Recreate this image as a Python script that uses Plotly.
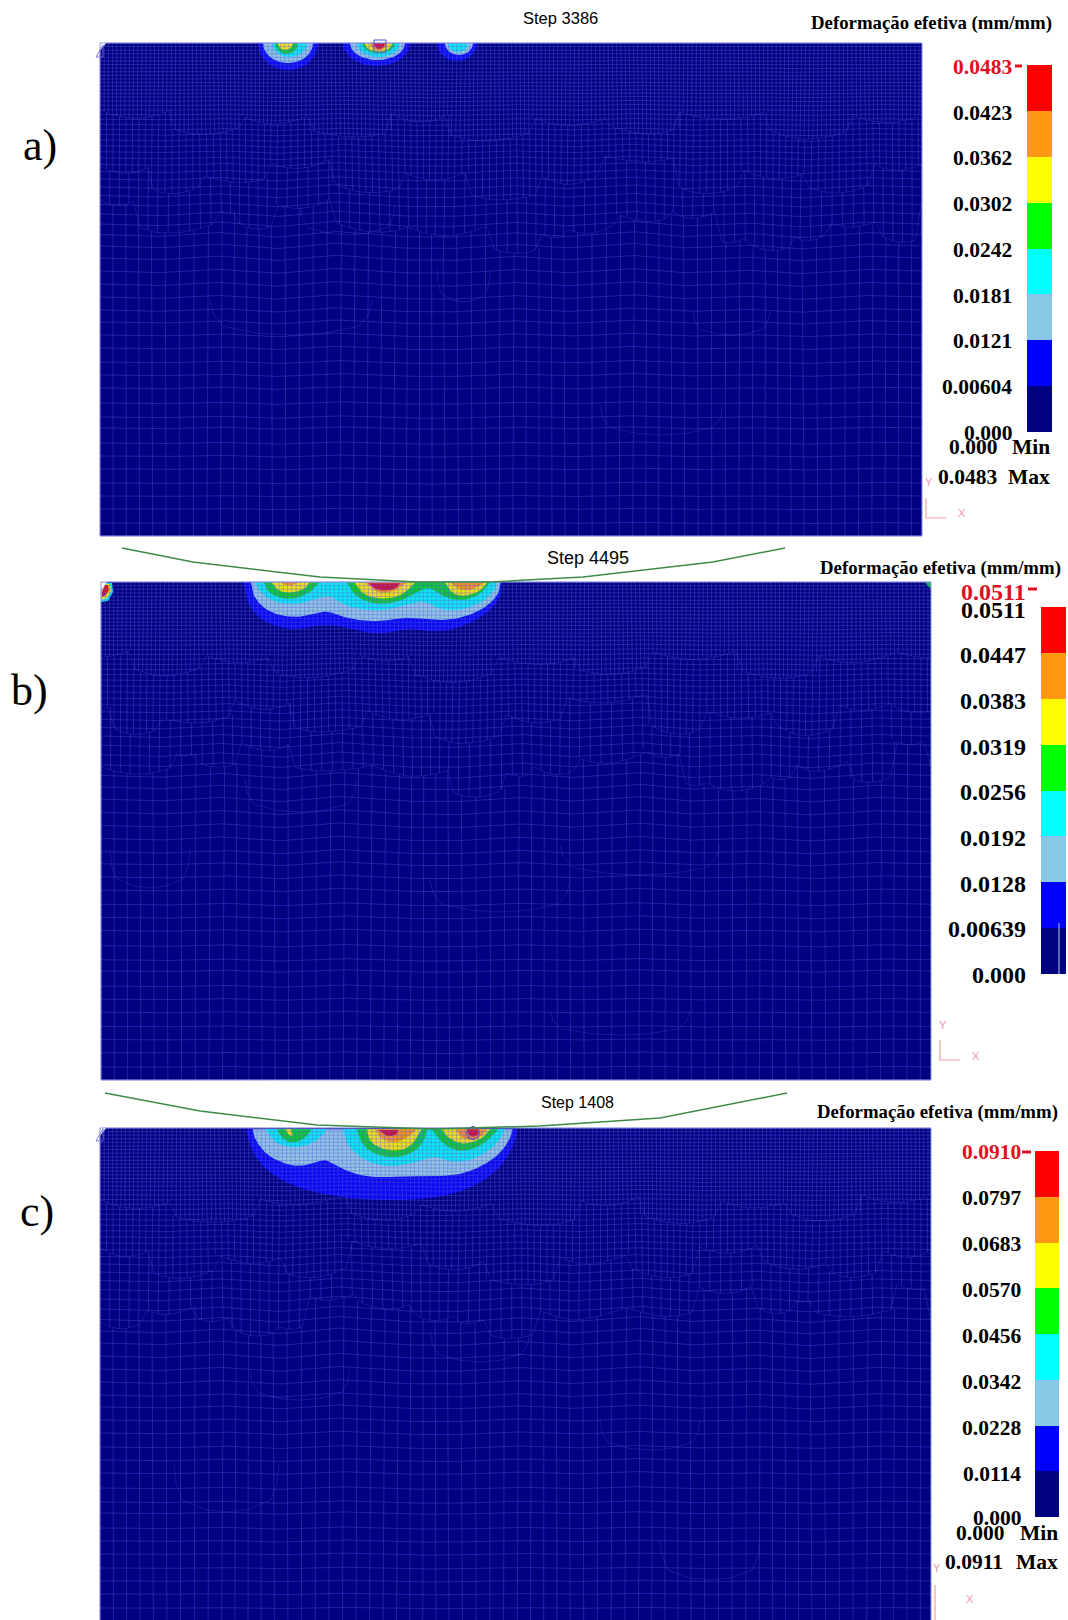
import numpy as np
import plotly.graph_objects as go

# ---- colour levels (low to high)
level_colors = ["#000080", "#0000ff", "#87c8e6", "#00ffff", "#00ff00", "#ffff00", "#ff9912", "#ff0000"]
C_BLUE, C_LIGHT, C_CYAN, C_GREEN, C_YEL, C_ORG, C_RED = "#0a0af0", "#8fc4e2", "#10e8f0", "#10c838", "#f0e020", "#f09030", "#d01038"

# ---- colour bar tick labels
ticks_a = ["0.0483", "0.0423", "0.0362", "0.0302", "0.0242", "0.0181", "0.0121", "0.00604", "0.000"]
ticks_b = ["0.0511", "0.0447", "0.0383", "0.0319", "0.0256", "0.0192", "0.0128", "0.00639", "0.000"]
ticks_c = ["0.0910", "0.0797", "0.0683", "0.0570", "0.0456", "0.0342", "0.0228", "0.0114", "0.000"]
tick_y_a = [67, 113, 158, 204, 250, 296, 341, 387, 433]
tick_y_b = [610, 655, 701, 747, 792, 838, 884, 929, 975]
tick_y_c = [1152, 1198, 1244, 1290, 1336, 1382, 1428, 1474, 1518]

# ---- panels: left, right, top, bottom
panel_a = (100, 922, 43, 536)
panel_b = (101, 931, 582, 1080)
panel_c = (100, 931, 1128, 1621)

# ---- mesh (depth below top edge, panel a pixels)
mesh_rows = [0, 3.6, 7.2, 10.8, 14.4, 18, 21.6, 25.2, 28.8, 32.4, 36, 39.6, 43.2, 46.8, 50.4, 54, 58,
             62.2, 66.8, 71.5, 76.3, 81.2, 86.3, 91.5, 97, 102.8, 108.8, 115, 121.5, 128.5, 136, 144,
             152.5, 161.5, 171, 181, 191.5, 203, 215, 228, 241, 254, 267, 279, 292, 305, 319, 332,
             345, 360, 374, 385, 400, 413, 426, 440, 453, 466, 480, 493]
mesh_steps = [4.2, 6.6, 9.9, 13.3]
row_wave = [0, 2, -2, 3, -3, 2, 3, -2, 2, -3, 2, -1, 3, -2, 0]
col_wave = [0, -2, 3, -2, 2, 3, -3, 2, -2, 3, -2, 2, -3, 2, 0]
wave_depth = [0, 60, 190, 300, 493]
wave_gain = [0, 0.3, 1, 0.6, 0.25]
scallop_1 = [(100, 170, 75), (170, 240, 92), (240, 310, 80), (310, 390, 95), (390, 450, 78), (450, 530, 98),
             (530, 610, 82), (610, 680, 92), (680, 770, 76), (770, 850, 95), (850, 922, 80)]
scallop_2 = [(100, 150, 130), (150, 200, 150), (200, 270, 140), (270, 330, 125), (330, 400, 150), (400, 470, 135),
             (470, 540, 158), (540, 600, 140), (600, 680, 120), (680, 740, 150), (740, 810, 135), (810, 870, 150),
             (870, 922, 128)]
scallop_3 = [(100, 135, 162), (135, 215, 189), (215, 235, 172), (235, 275, 185), (275, 330, 165), (330, 407, 189),
             (407, 490, 190), (490, 540, 212), (540, 567, 194), (567, 613, 190), (613, 673, 180), (673, 717, 174),
             (717, 743, 200), (743, 797, 207), (797, 827, 195), (827, 880, 185), (880, 922, 200)]
arcs_a = [(210, 372, 300, 335), (437, 490, 270, 302), (600, 723, 405, 435), (693, 770, 310, 335), (300, 395, 205, 235)]
arcs_b = [(245, 357, 780, 812), (110, 190, 850, 888), (430, 570, 880, 912), (550, 690, 1010, 1035), (560, 720, 845, 875)]
arcs_c = [(174, 279, 1465, 1512), (660, 760, 1540, 1580), (430, 530, 1330, 1362), (600, 700, 1420, 1450), (250, 350, 1370, 1400)]

# ---- contour bands: panel a half-ellipses (left, right, bottom, colour)
blobs_a = [
    (258, 318, 70, C_BLUE), (263, 313, 63, C_LIGHT), (272, 307, 57, C_CYAN), (275, 298, 54, C_GREEN), (278, 293, 50, C_YEL),
    (343, 410, 66, C_BLUE), (350, 405, 60, C_LIGHT), (357, 400, 57, C_CYAN), (362, 395, 53, C_GREEN), (365, 392, 52, C_YEL),
    (370, 387, 50, C_ORG), (374, 385, 49, C_RED),
    (437, 477, 61, C_BLUE), (445, 473, 55, C_LIGHT), (448, 468, 52, C_CYAN),
]
# panel b contours, points (col, row) as read on a 3x crop with origin (200, 530)
bands_b = [
    (C_BLUE, [(130,157),(140,215),(175,265),(240,295),(300,298),(345,287),(385,285),(430,290),(500,310),(560,310),(630,295),(680,305),(760,300),(830,270),(880,235),(905,190),(905,157)]),
    (C_LIGHT, [(153,157),(158,195),(190,235),(240,258),(300,262),(345,250),(385,243),(420,258),(470,270),(540,275),(610,262),(660,265),(730,272),(800,260),(860,230),(895,195),(902,157)]),
    (C_CYAN, [(165,157),(185,195),(240,222),(300,222),(350,205),(390,195),(430,225),(490,240),(560,240),(620,225),(670,210),(720,240),(790,240),(850,215),(885,180),(890,157)]),
    (C_GREEN, [(192,157),(205,190),(265,212),(330,190),(358,157)]),
    (C_GREEN, [(440,157),(465,200),(530,225),(600,215),(650,185),(690,170),(720,195),(780,215),(840,195),(870,157)]),
    (C_YEL, [(215,157),(230,180),(265,190),(310,180),(330,157)]),
    (C_YEL, [(462,157),(490,195),(545,208),(600,200),(640,165),(645,157)]),
    (C_YEL, [(735,157),(755,190),(790,200),(840,185),(862,157)]),
    (C_ORG, [(240,157),(265,170),(300,157)]),
    (C_ORG, [(495,157),(520,182),(555,190),(590,180),(620,157)]),
    (C_ORG, [(750,157),(770,175),(800,182),(835,172),(850,157)]),
    (C_RED, [(505,160),(525,178),(560,183),(590,175),(600,160)]),
]
# panel b corner spots, points in full pixels
corners_b = [
    (C_CYAN, [(101,602),(108,601),(113,592),(112,583),(104,583),(101,590)]),
    (C_YEL, [(101,600),(107,598),(111,591),(110,584),(105,584),(101,591)]),
    (C_RED, [(102,597),(106,595),(109,590),(108,585),(105,585),(102,592)]),
    (C_GREEN, [(925,582),(931,582),(931,589),(928,586)]),
]
# panel c contours, points (col, row) as read on a 3x crop with origin (200, 1080)
bands_c = [
    (C_BLUE, [(138,148),(150,200),(185,260),(260,310),(350,340),(480,358),(620,362),(760,345),(860,300),(920,240),(950,170),(950,148)]),
    (C_LIGHT, [(158,148),(165,180),(200,225),(250,250),(295,260),(340,250),(375,237),(405,255),(470,285),(540,293),(620,288),(720,290),(800,280),(880,240),(925,190),(938,148)]),
    (C_CYAN, [(195,148),(220,185),(270,205),(330,195),(370,165),(380,148)]),
    (C_CYAN, [(430,148),(440,195),(490,240),(560,262),(640,250),(700,225),(760,250),(830,235),(890,195),(915,148)]),
    (C_GREEN, [(230,148),(250,180),(280,190),(315,175),(335,148)]),
    (C_GREEN, [(470,148),(490,205),(560,235),(630,225),(670,190),(682,148)]),
    (C_GREEN, [(695,148),(725,190),(780,218),(840,200),(880,165),(895,148)]),
    (C_YEL, [(255,148),(265,165),(280,172),(272,148)]),
    (C_YEL, [(500,148),(510,190),(570,215),(630,205),(665,148)]),
    (C_YEL, [(725,148),(745,175),(790,195),(845,178),(870,148)]),
    (C_ORG, [(525,148),(540,175),(580,190),(620,175),(650,148)]),
    (C_ORG, [(765,148),(785,175),(820,182),(850,165),(860,148)]),
    (C_RED, [(535,150),(560,170),(590,165),(595,150)]),
    (C_RED, [(800,148),(805,165),(820,172),(835,165),(838,148)]),
]

# ---- die profiles
die_x_b = [122, 193, 260, 320, 417, 490, 583, 713, 785]
die_y_b = [548, 562, 570, 577, 582, 582, 577, 562, 548]
die_x_c = [105, 200, 317, 433, 540, 660, 787]
die_y_c = [1093, 1111, 1125, 1129, 1126, 1118, 1093]

fig = go.Figure()


def poly(xs, ys, color):
    fig.add_trace(go.Scatter(x=list(xs), y=list(ys), mode="lines", fill="toself", fillcolor=color,
                             line=dict(width=0, color=color), hoverinfo="skip", showlegend=False))


def line(xs, ys, color, width=1.0):
    fig.add_trace(go.Scatter(x=list(xs), y=list(ys), mode="lines", line=dict(color=color, width=width),
                             hoverinfo="skip", showlegend=False, connectgaps=False))


def scallop(lst, xm):
    for x0, x1, bot in lst:
        if x0 <= xm <= x1:
            w = max(x1 - x0, 1)
            return bot - min(8, w * 0.15) * (2 * (xm - (x0 + x1) / 2) / w) ** 2
    return lst[-1][2]


def draw_mesh(panel, shift, flip, arcs):
    L, R, T, B = panel
    sx, sy = (R - L) / 822, (B - T) / 493
    knots = np.linspace(100, 922, len(row_wave))

    def lookup(x):
        xm = 100 + (x - 100 + shift) % 822
        return 1022 - xm if flip else xm

    def warp(x, d):
        g = np.interp(d, wave_depth, wave_gain)
        xx = x + np.interp(x, knots, col_wave) * g
        dd = d + np.interp(x, knots, row_wave) * g
        xx = np.clip(xx, 100, 922)
        dd = np.clip(dd, 0, 493)
        return L + (xx - 100) * sx, T + dd * sy

    X, Y = [], []

    def add(xs, ds, bx=X, by=Y):
        a, b = warp(np.asarray(xs, float), np.asarray(ds, float))
        bx.extend(a.tolist() + [None])
        by.extend(b.tolist() + [None])

    grid_x = np.linspace(100, 922, 120)
    for d in mesh_rows:
        add(grid_x, np.full(grid_x.shape, d))
    tops = [lambda x: 0.0,
            lambda x: scallop(scallop_1, lookup(x)),
            lambda x: scallop(scallop_2, lookup(x)),
            lambda x: scallop(scallop_3, lookup(x))]
    bots = tops[1:] + [lambda x: 493.0]
    for step, top, bot in zip(mesh_steps, tops, bots):
        for x in np.arange(100, 922.01, step):
            add([x] * 8, np.linspace(top(x), bot(x), 8))
    line(X, Y, "rgba(86,86,226,0.55)", 0.7)
    SX, SY = [], []
    for lst in (scallop_1, scallop_2, scallop_3):
        add(grid_x, [scallop(lst, lookup(x)) for x in grid_x], SX, SY)
    ax, ay = [], []
    for x0, x1, y0, y1 in arcs:
        w = x1 - x0
        ax += [x0, x0 + 0.02 * w, x0 + 0.08 * w, x0 + 0.3 * w, x0 + 0.5 * w, x0 + 0.7 * w, x1 - 0.08 * w, x1 - 0.02 * w, x1, None]
        ay += [y0, y0 + 0.4 * (y1 - y0), y1 - 0.25 * (y1 - y0), y1 - 0.05 * (y1 - y0), y1, y1 - 0.05 * (y1 - y0), y1 - 0.25 * (y1 - y0), y0 + 0.4 * (y1 - y0), y0, None]
    line(SX + ax, SY + ay, "rgba(86,86,226,0.38)", 0.7)


def frame(panel):
    L, R, T, B = panel
    poly([L, R, R, L, L], [T, T, B, B, T], "#000080")


def cap_corner(panel):
    L, R, T, B = panel
    poly([L - 1, L + 7, L - 1, L - 1], [T - 1, T - 1, T + 9, T - 1], "#ffffff")


def border(panel):
    L, R, T, B = panel
    line([L, L, R, R, L], [T, B, B, T, T], "#8f8fe8", 1)


def half_ellipse(x0, x1, y_top, y_bot, color):
    cx, rx = (x0 + x1) / 2, (x1 - x0) / 2
    t = np.linspace(0, np.pi, 40)
    poly(cx + rx * np.cos(t), y_top + (y_bot - y_top) * np.sin(t), color)


def chaikin(pts, rounds=3):
    p = np.asarray(pts, float)
    for _ in range(rounds):
        q = [p[0]]
        for a, b in zip(p[:-1], p[1:]):
            q += [0.75 * a + 0.25 * b, 0.25 * a + 0.75 * b]
        q.append(p[-1])
        p = np.array(q)
    return p


def crop_poly(pts, ox, oy, color):
    p = chaikin(pts)
    poly(ox + p[:, 0] / 3, oy + p[:, 1] / 3, color)


def text(x, y, s, size, color="#000000", anchor="center", family="Liberation Serif", weight="bold"):
    fig.add_annotation(x=x, y=y, text=s, xref="x", yref="y", showarrow=False, xanchor=anchor, yanchor="middle",
                       font=dict(family=family, size=size, color=color, weight=weight), borderpad=0, borderwidth=0)


def strip(x0, x1, y0, y1):
    edges = np.linspace(y0, y1, 9)
    n = len(level_colors)
    scale = []
    for i, c in enumerate(level_colors):
        scale += [[i / n, c], [(i + 1) / n, c]]
    fig.add_trace(go.Heatmap(z=[[i] for i in range(7, -1, -1)], x=[x0, x1], y=edges.tolist(), colorscale=scale,
                             zmin=0, zmax=8, showscale=False, hoverinfo="skip"))


def triad(xv, y0, y1, x1, yx, yy, xx, xy):
    line([xv, xv, x1], [y0, y1, y1], "#f0a0a8", 1.2)
    text(yx, yy, "Y", 11, "#f09aa5", family="Liberation Sans", weight="normal")
    text(xx, xy, "X", 11, "#f09aa5", family="Liberation Sans", weight="normal")


# ---- panel a
frame(panel_a)
for x0, x1, b, c in blobs_a:
    half_ellipse(x0, x1, 43, b, c)
draw_mesh(panel_a, 0, False, arcs_a)
cap_corner(panel_a)
border(panel_a)
line([96, 103, 103, 96], [57, 45, 57, 57], "#6a6ad8", 0.9)
line([374, 386, 386, 374, 374], [40, 40, 52, 52, 40], "#5050c0", 1)

# ---- panel b
frame(panel_b)
for c, pts in bands_b:
    crop_poly(pts, 200, 530, c)
for c, pts in corners_b:
    poly([p[0] for p in pts], [p[1] for p in pts], c)
draw_mesh(panel_b, 40, False, arcs_b)
cap_corner(panel_b)
border(panel_b)

# ---- panel c
frame(panel_c)
for c, pts in bands_c:
    crop_poly(pts, 200, 1080, c)
draw_mesh(panel_c, 0, True, arcs_c)
cap_corner(panel_c)
border(panel_c)
line([96, 103, 103, 96], [1141, 1129, 1141, 1141], "#6a6ad8", 0.9)
t = np.linspace(0, 2 * np.pi, 9)
line(473 + 6.5 * np.cos(t), 1133 + 6.5 * np.sin(t), "#6050c0", 1.2)

# ---- die profiles
line(die_x_b, die_y_b, "#3f8a48", 1.5)
line(die_x_c, die_y_c, "#3f8a48", 1.5)

# ---- colour strips
strip(1027, 1052, 65, 432)
strip(1041, 1066, 607, 974)
strip(1035, 1059, 1151, 1517)
line([1059, 1059], [923, 974], "#c8c8e0", 1)

# ---- tick labels
for i, (s, y) in enumerate(zip(ticks_a, tick_y_a)):
    text(1012, y, s, 21.5, "#e01020" if i == 0 else "#000000", "right")
for s, y in zip(ticks_b, tick_y_b):
    text(1026, y, s, 24, "#000000", "right")
text(1026, 592, ticks_b[0], 24, "#e01020", "right")
for i, (s, y) in enumerate(zip(ticks_c, tick_y_c)):
    text(1021, y, s, 21.5, "#e01020" if i == 0 else "#000000", "right")
line([1015, 1022], [66, 66], "#e01020", 3)
line([1028, 1037], [589, 589], "#e01020", 3)
line([1022, 1031], [1152, 1152], "#e01020", 3)

# ---- titles and steps
text(931.5, 23, "Deformação efetiva (mm/mm)", 18.8)
text(940, 568, "Deformação efetiva (mm/mm)", 18.8)
text(937, 1112, "Deformação efetiva (mm/mm)", 18.8)
text(560, 18, "Step 3386", 16.5, "#000000", family="Liberation Sans", weight="normal")
text(588, 558, "Step 4495", 18, "#000000", family="Liberation Sans", weight="normal")
text(577, 1102, "Step 1408", 16, "#000000", family="Liberation Sans", weight="normal")

# ---- min / max
text(997, 447, "0.000", 21.5, anchor="right")
text(1050, 447, "Min", 21.5, anchor="right")
text(997, 477, "0.0483", 21.5, anchor="right")
text(1050, 477, "Max", 21.5, anchor="right")
text(1004, 1533, "0.000", 21.5, anchor="right")
text(1058, 1533, "Min", 21.5, anchor="right")
text(1003, 1562, "0.0911", 21.5, anchor="right")
text(1058, 1562, "Max", 21.5, anchor="right")

# ---- panel letters
text(40, 145, "a)", 44, weight="normal")
text(29, 690, "b)", 44, weight="normal")
text(37, 1211, "c)", 44, weight="normal")

# ---- triads
triad(926, 498, 518, 946, 929, 482, 962, 513)
triad(940, 1040, 1060, 960, 943, 1025, 976, 1056)
triad(935, 1585, 1622, 936, 937, 1568, 970, 1599)

fig.update_layout(width=1068, height=1620, autosize=False, margin=dict(l=0, r=0, t=0, b=0, pad=0),
                  paper_bgcolor="#ffffff", plot_bgcolor="#ffffff", showlegend=False,
                  xaxis=dict(range=[0, 1068], visible=False, fixedrange=True),
                  yaxis=dict(range=[1620, 0], visible=False, fixedrange=True))
fig.write_html("out.html", config={"displayModeBar": False},
               post_script="document.body.style.margin='0';document.body.style.overflow='hidden';")
